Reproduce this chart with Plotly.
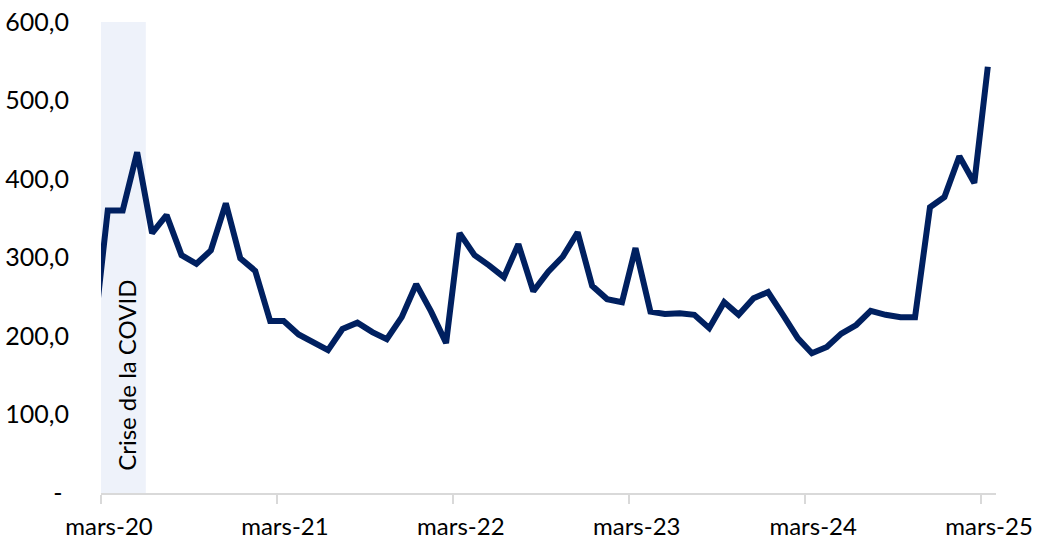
import plotly.graph_objects as go
import pandas as pd

# Monthly series, mid-month dates (Feb 2020 .. Mar 2025)
dates = list(pd.date_range("2020-02-01", periods=62, freq="MS") + pd.Timedelta(days=14))
values = [
    200,                                                  # févr-20
    360, 360, 434, 331, 354, 303, 292, 309, 369, 299,      # mars-20 .. déc-20
    283, 219,                                              # janv-21, févr-21
    219, 202, 193, 182, 209, 217, 205, 196, 224, 266,      # mars-21 .. déc-21
    231, 191,                                              # janv-22, févr-22
    331, 303, 290, 275, 317, 257, 282, 301, 332, 264,      # mars-22 .. déc-22
    247, 243,                                              # janv-23, févr-23
    312, 231, 228, 229, 227, 210, 243, 227, 248, 256,      # mars-23 .. déc-23
    227, 197,                                              # janv-24, févr-24
    178, 186, 203, 214, 232, 227, 224, 224, 364, 377,      # mars-24 .. déc-24
    429, 395,                                              # janv-25, févr-25
    543,                                                   # mars-25
]

x_tick_vals = ["2020-03-01", "2021-03-01", "2022-03-01", "2023-03-01", "2024-03-01", "2025-03-01"]
x_tick_text = ["mars-20", "mars-21", "mars-22", "mars-23", "mars-24", "mars-25"]
y_tick_vals = [0, 100, 200, 300, 400, 500, 600]
y_tick_text = ["-\u00a0", "100,0", "200,0", "300,0", "400,0", "500,0", "600,0"]

covid_start = "2020-03-01"
covid_end = "2020-06-02"
covid_label = "Crise de la COVID"

FONT = "Lato"

fig = go.Figure()
fig.add_shape(type="rect", xref="x", yref="y", x0=covid_start, x1=covid_end, y0=0, y1=600,
              fillcolor="#EEF2FA", line=dict(width=0), layer="below")
fig.add_trace(go.Scatter(x=dates, y=values, mode="lines",
                         line=dict(color="#002060", width=6), hoverinfo="skip"))
fig.add_annotation(x="2020-04-23", y=150, text=covid_label, textangle=-90, showarrow=False,
                   font=dict(family=FONT, size=24, color="#000000"), xref="x", yref="y")

fig.update_layout(
    width=1037, height=552,
    margin=dict(l=101, r=41, t=22, b=59, autoexpand=False),
    paper_bgcolor="white", plot_bgcolor="white",
    showlegend=False,
    font=dict(family=FONT, size=24, color="#000000"),
)
fig.update_xaxes(
    type="date", range=["2020-03-01", "2025-04-01"],
    tickvals=x_tick_vals, ticktext=x_tick_text,
    showgrid=False, zeroline=False, automargin=False,
    showline=True, linecolor="#D9D9D9", linewidth=2,
    ticks="outside", ticklen=9, tickwidth=2, tickcolor="#D9D9D9",
    ticklabelshift=8, ticklabelstandoff=2, ticklabeloverflow="allow",
    tickfont=dict(family=FONT, size=24, color="#000000"),
)
fig.update_yaxes(
    range=[0, 600], tickvals=y_tick_vals, ticktext=y_tick_text,
    showgrid=False, zeroline=False, showline=False, automargin=False,
    ticks="", ticklabelstandoff=31, ticklabeloverflow="allow",
    tickfont=dict(family=FONT, size=25, color="#000000"),
)

# remove the browser's default 8px body margin so the figure fills the window exactly
fig.write_html("out.html", config={"displayModeBar": False},
               post_script="document.body.style.margin='0';")
